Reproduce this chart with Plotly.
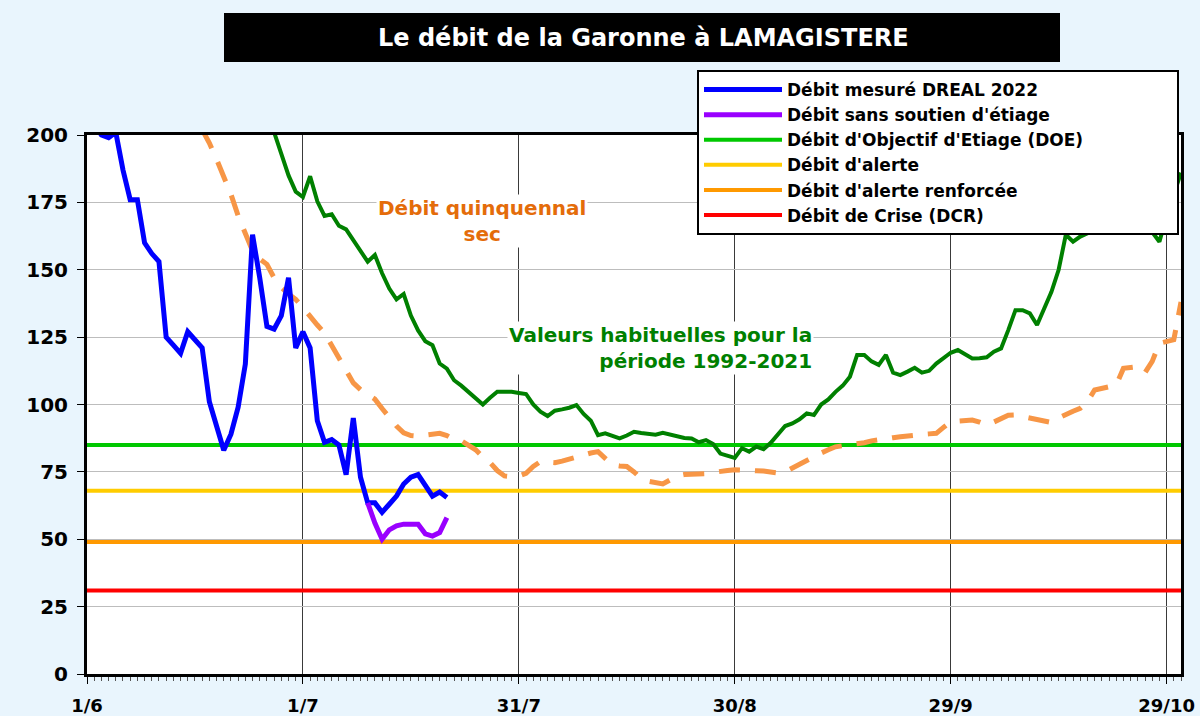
import pandas as pd
import plotly.graph_objects as go

# ---------------- data ----------------
TICK_DATES = ["2022-06-01", "2022-07-01", "2022-07-31", "2022-08-30", "2022-09-29", "2022-10-29"]
TICK_LABELS = ["1/6", "1/7", "31/7", "30/8", "29/9", "29/10"]

MESURE_START = "2022-06-01"
debit_mesure = [210, 204, 200, 199, 201, 187, 176, 176, 160, 156, 153, 125, 122, 119, 127, 124, 121,
                101, 92, 83, 89, 99, 115, 163, 147, 129, 128, 133, 147, 121, 127, 121, 94, 86, 87,
                85, 74, 95, 73, 63.5, 63.5, 60, 63, 66, 70.5, 73, 74, 70, 66, 67.5, 65.5]

SANS_SOUTIEN_START = "2022-07-10"
debit_sans_soutien = [63.5, 56, 50, 53.5, 55, 55.6, 55.6, 55.6, 52, 51.2, 52.5, 58]

HABITUEL_START = "2022-06-26"
valeurs_habituelles = [207, 201, 193, 185, 179, 177, 184.7, 175.4, 170, 170.6, 166.3, 165, 161, 157,
                       153, 155.5, 148.7, 143, 139, 141, 133, 127.5, 123.5, 122, 115.2, 113.3, 109,
                       107, 104.7, 102.5, 100, 102.5, 104.7, 104.7, 104.7, 104.3, 103.9, 100, 97.3,
                       95.7, 97.7, 98.2, 98.8, 99.8, 96.5, 94, 88.6, 89.3, 88.2, 87.4, 88.5, 89.9,
                       89.4, 89, 88.8, 89.5, 88.8, 88.1, 87.6, 87.4, 86, 86.8, 85.3, 81.8, 80.8,
                       80.2, 83.8, 82.5, 84.4, 83.4, 85.8, 89, 92, 93, 94.5, 96.7, 96.1, 100, 101.9,
                       104.7, 107, 110.3, 118.4, 118.4, 116, 114.7, 118.4, 111.8, 110.9, 112.2,
                       113.6, 111.8, 112.5, 115.2, 117.1, 119.2, 120.2, 118.7, 117.1, 117.2, 117.5,
                       119.6, 120.8, 127.6, 135, 135, 133.8, 129.5, 135.7, 141.8, 150, 163, 160.4,
                       162.3, 163.5, 166, 168, 170, 169, 171, 172, 170, 168, 164, 160.4, 170, 178, 186]

QUINQUENNAL_START = "2022-06-17"
debit_quinquennal = [202, 197, 191, 185, 178, 170, 163, 157, 154, 152, 147, 143.5, 141, 139, 136,
                     132.5, 129.5, 126.5, 122, 117, 112.5, 108, 105.5, 104, 102, 98.5, 95, 92, 89.5,
                     88.5, 88.3, 88.5, 89, 89.3, 88.5, 87, 86.5, 85, 83.2, 80.5, 78.5, 75.5, 73.5,
                     73.2, 73.5, 74.5, 77, 78.8, 78.6, 78.4, 79, 79.8, 80.4, 81, 82, 82.5, 80, 77.6,
                     77.2, 77, 75, 72.5, 71.5, 71, 70.5, 72, 73.5, 74, 74, 74.2, 74.3, 74.8, 75.3,
                     75.5, 75.8, 75.8, 75.6, 75.4, 75.3, 75, 74.6, 75, 76.5, 78, 79.5, 81, 82, 83.2,
                     84.3, 84.7, 85, 85.3, 85.8, 86.5, 87, 87.3, 87.7, 88, 88.4, 88.7, 88.9, 89.1,
                     89.3, 91.5, 93.6, 93.8, 94, 94.2, 93.5, 92.4, 93.5, 95, 96, 96.1, 95.5, 94.9,
                     94.3, 93.6, 93.3, 95, 96.5, 97.5, 98.6, 101, 105.4, 106, 106.6, 107.2, 113.4,
                     113.6, 114, 111.8, 116, 122.7, 123.5, 124, 138]

DOE = 85
ALERTE = 68
ALERTE_RENFORCEE = 49
CRISE = 31

X_START = "2022-06-01"
X_END = "2022-10-31"

# ---------------- figure ----------------
FONT = "DejaVu Sans"
NB = "\u00a0"
fig = go.Figure()


def dates(start, n):
    return pd.date_range(start, periods=n, freq="D")


thresholds = [
    ("Débit d'Objectif d'Etiage (DOE)" + NB * 15, DOE, "#00C800", 3),
    ("Débit d'alerte", ALERTE, "#FFCC00", 4),
    ("Débit d'alerte renforcée", ALERTE_RENFORCEE, "#FF9900", 5),
    ("Débit de Crise (DCR)", CRISE, "#FF0000", 6),
]
for name, val, col, rank in thresholds:
    fig.add_trace(go.Scatter(
        x=[X_START, X_END], y=[val, val], mode="lines", name=name,
        line=dict(color=col, width=4), legendrank=rank, legendgroup=name,
        hoverinfo="skip"))

fig.add_trace(go.Scatter(
    x=dates(QUINQUENNAL_START, len(debit_quinquennal)), y=debit_quinquennal,
    mode="lines", line=dict(color="#F79646", width=5, dash="21px,15px"),
    showlegend=False, name="Débit quinquennal sec"))

fig.add_trace(go.Scatter(
    x=dates(HABITUEL_START, len(valeurs_habituelles)), y=valeurs_habituelles,
    mode="lines", line=dict(color="#008000", width=4),
    showlegend=False, name="Valeurs habituelles"))

fig.add_trace(go.Scatter(
    x=dates(MESURE_START, len(debit_mesure)), y=debit_mesure,
    mode="lines", name="Débit mesuré DREAL 2022", legendrank=1, legendgroup="m",
    line=dict(color="#0000FF", width=5)))

fig.add_trace(go.Scatter(
    x=dates(SANS_SOUTIEN_START, len(debit_sans_soutien)), y=debit_sans_soutien,
    mode="lines", name="Débit sans soutien d'étiage", legendrank=2, legendgroup="s",
    line=dict(color="#9900FF", width=5)))

W, H = 1200, 716
L, R, T, B = 87, 19, 135, 42
PW, PH = W - L - R, H - T - B


def px(x):
    return (x - L) / PW


def py(y):
    return (H - B - y) / PH


fig.update_layout(
    width=W, height=H,
    margin=dict(l=L, r=R, t=T, b=B, autoexpand=False),
    paper_bgcolor="#E9F5FD", plot_bgcolor="white",
    font=dict(family=FONT, color="black"),
    showlegend=True,
    legend=dict(x=px(697), y=py(70), xanchor="left", yanchor="top",
                bgcolor="white", bordercolor="black", borderwidth=2,
                font=dict(family=FONT, size=17, weight="bold", color="black"),
                itemwidth=78, tracegroupgap=3, traceorder="normal"),
    xaxis=dict(type="date", range=[X_START, X_END],
               tickmode="array", tickvals=TICK_DATES, ticktext=TICK_LABELS,
               ticks="outside", ticklen=7, tickcolor="black", tickwidth=1,
               ticklabelstandoff=6,
               tickfont=dict(family=FONT, size=18, weight="bold"),
               showgrid=True, gridcolor="#3a3a3a", gridwidth=1,
               showline=True, linecolor="black", linewidth=3, mirror=True,
               minor=dict(tickmode="linear", tick0=X_START, dtick=86400000,
                          ticks="outside", ticklen=4, tickcolor="#555", showgrid=False),
               zeroline=False, automargin=False),
    yaxis=dict(range=[0, 200], tickmode="linear", tick0=0, dtick=25,
               ticks="outside", ticklen=7, tickcolor="black",
               ticklabelstandoff=5,
               tickfont=dict(family=FONT, size=20, weight="bold"),
               showgrid=True, gridcolor="#BDBDBD", gridwidth=1,
               showline=True, linecolor="black", linewidth=3, mirror=True,
               zeroline=False, automargin=False),
    shapes=[dict(type="rect", xref="paper", yref="paper",
                 x0=px(224), x1=px(1060), y0=py(62), y1=py(13),
                 fillcolor="black", line=dict(width=0), layer="above")],
    annotations=[
        dict(xref="paper", yref="paper", x=px(643), y=py(38),
             xanchor="center", yanchor="middle",
             text="Le débit de la Garonne à LAMAGISTERE", showarrow=False,
             font=dict(family=FONT, size=24, weight="bold", color="white")),
        dict(xref="paper", yref="paper", x=px(482), y=py(221),
             xanchor="center", yanchor="middle",
             text="Débit quinquennal<br>sec", showarrow=False, align="center",
             bgcolor="white",
             font=dict(family=FONT, size=20, weight="bold", color="#E46C0A")),
        dict(xref="paper", yref="paper", x=px(814), y=py(348),
             xanchor="right", yanchor="middle",
             text="Valeurs habituelles pour la<br>période 1992-2021", showarrow=False,
             align="right", bgcolor="white",
             font=dict(family=FONT, size=20, weight="bold", color="#008000")),
    ],
)

fig.write_html("out.html", config={"displayModeBar": False},
               post_script="document.body.style.margin='0';")
